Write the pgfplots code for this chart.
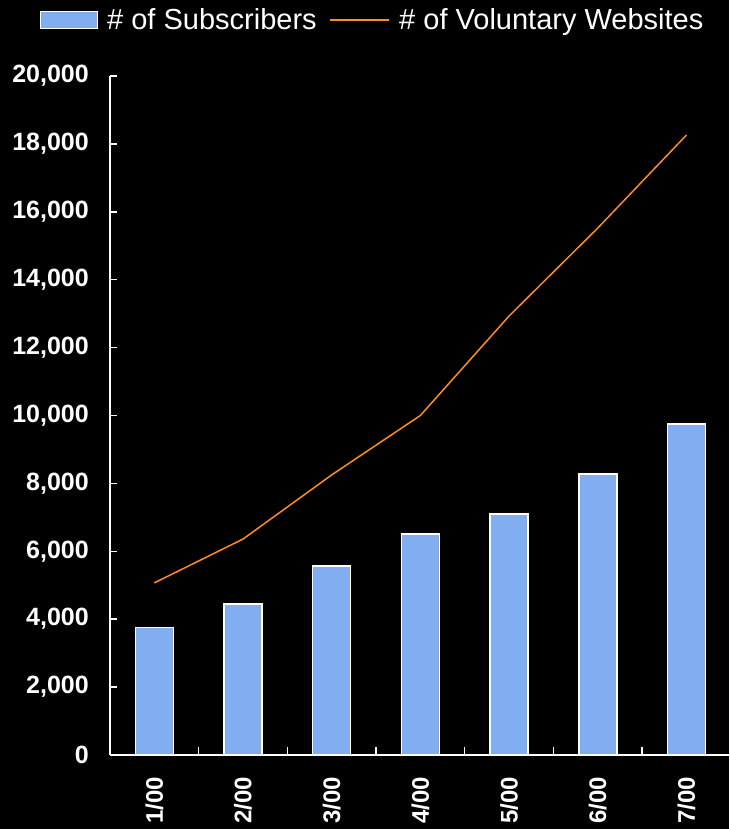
\documentclass[border=0pt]{standalone}
\usepackage{fontspec}
\setmainfont{Liberation Sans}
\usepackage{pgfplots}
\pgfplotsset{compat=1.18}
\definecolor{barblue}{RGB}{128,174,240}
\definecolor{lineorange}{RGB}{255,140,30}
\begin{document}
\begin{tikzpicture}
\path[use as bounding box, fill=black] (-110pt,-74pt) rectangle (619pt,755pt);
\begin{axis}[
  at={(0,0)}, anchor=south west,
  scale only axis,
  width=619pt, height=679pt,
  xmin=-0.5, xmax=6.48,
  ymin=0, ymax=20000,
  axis x line=bottom, axis y line=left,
  axis line style={-, white, line width=1.5pt},
  xtick={0,1,2,3,4,5,6},
  xticklabels={1/00,2/00,3/00,4/00,5/00,6/00,7/00},
  minor xtick={0.5,1.5,2.5,3.5,4.5,5.5},
  major x tick style={draw=none},
  minor x tick style={white, line width=1.5pt},
  minor tick length=8pt,
  ytick={0,2000,...,20000},
  major y tick style={white, line width=1.5pt},
  major tick length=7pt,
  tick align=inside,
  scaled y ticks=false,
  /pgf/number format/.cd, 1000 sep={,}, assume math mode=true,
  /pgfplots/.cd,
  yticklabel style={font=\fontsize{25}{30}\selectfont\bfseries, text=white, inner sep=0pt, anchor=east, xshift=-21pt},
  xticklabel style={font=\fontsize{24}{28}\selectfont\bfseries, text=white, yshift=-22pt, rotate=90, anchor=east, inner sep=0pt},
  legend columns=2,
  legend style={at={(0.4225,1.0825)}, anchor=center, draw=none, fill=none,
    text=white, font=\fontsize{29}{34}\selectfont,
    /tikz/every odd column/.append style={column sep=9pt},
    /tikz/every even column/.append style={column sep=13pt},
    nodes={inner sep=0pt}},
  clip=false,
]
\addplot[ybar, bar width=38pt, bar shift=0pt, fill=barblue, draw=white, line width=1.5pt,
  legend image code/.code={\path[fill=barblue, draw=white, line width=1.5pt] (0pt,-8.5pt) rectangle (57pt,8.5pt);}]
  coordinates {(0,3750) (1,4450) (2,5570) (3,6510) (4,7100) (5,8280) (6,9750)};
\addlegendentry{\# of Subscribers}
\addplot[lineorange, line width=1.5pt, mark=none,
  legend image code/.code={\draw[lineorange, line width=1.5pt] (0pt,0pt) -- (59pt,0pt);}]
  coordinates {(0,5070) (1,6360) (2,8250) (3,10000) (4,12930) (5,15520) (6,18260)};
\addlegendentry{\# of Voluntary Websites}
\end{axis}
\end{tikzpicture}
\end{document}
